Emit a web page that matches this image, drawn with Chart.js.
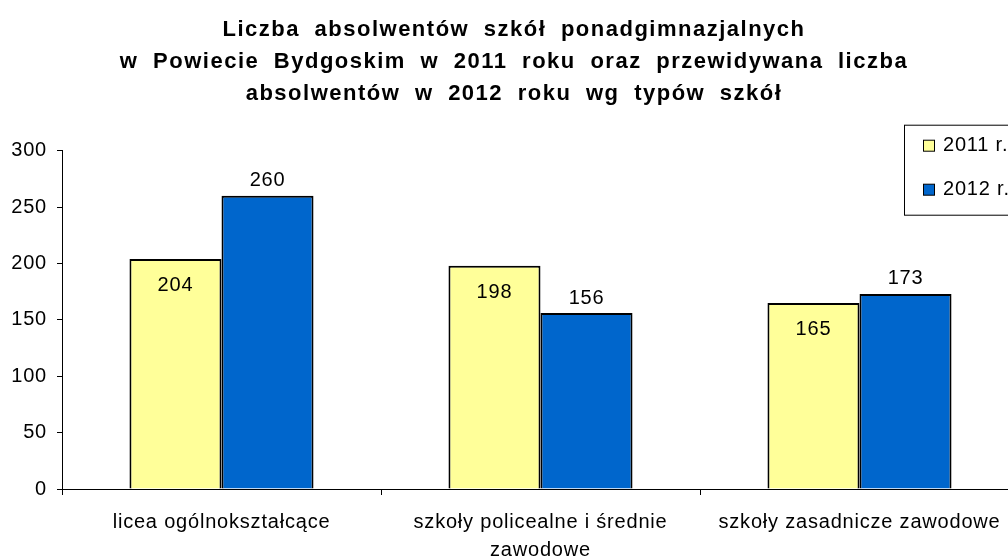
<!DOCTYPE html>
<html>
<head>
<meta charset="utf-8">
<script src="https://cdn.jsdelivr.net/npm/chart.js@4.4.1/dist/chart.umd.min.js"></script>
<style>
  html, body { margin: 0; padding: 0; background: #fff; overflow: hidden; }
  #wrap { width: 1008px; height: 558px; overflow: hidden; }
</style>
</head>
<body>
<div id="wrap"><canvas id="chart" width="1030" height="558"></canvas></div>
<script>
// dane
var categories = ["licea ogólnokształcące", ["szkoły policealne i średnie", "zawodowe"], "szkoły zasadnicze zawodowe"];
var seriesNames = ["2011 r.", "2012 r."];
var values2011 = [204, 198, 165];
var values2012 = [260, 156, 173];
var yTicks = [0, 50, 100, 150, 200, 250, 300];

var FONT = "'Liberation Sans', Arial, sans-serif";
var colors = ["#FFFF99", "#0066CC"];

// rozstrzelony tekst jak w Excelu
var spacing = {
	id: "spacing",
	beforeDraw: function (chart) {
		chart.ctx.letterSpacing = "0.8px";
		var tb = chart.titleBlock;
		if (tb && !tb._spaced) {
			var orig = tb.draw;
			tb.draw = function () {
				chart.ctx.save();
				chart.ctx.letterSpacing = "1.5px";
				chart.ctx.wordSpacing = "7px";
				orig.apply(tb, arguments);
				chart.ctx.restore();
			};
			tb._spaced = true;
		}
	}
};

// etykiety wartości nad/wewnątrz słupków
var barLabels = {
	id: "barLabels",
	afterDatasetsDraw: function (chart) {
		var ctx = chart.ctx;
		chart.data.datasets.forEach(function (ds, i) {
			var meta = chart.getDatasetMeta(i);
			meta.data.forEach(function (bar, j) {
				ctx.save();
				ctx.font = "20px " + FONT;
				ctx.fillStyle = "#000";
				ctx.textAlign = "center";
				ctx.textBaseline = "middle";
				var y = i === 0 ? bar.y + 27 : bar.y - 15;
				ctx.fillText(String(ds.data[j]), bar.x, y);
				ctx.restore();
			});
		});
	}
};

// legenda w ramce
var boxLegend = {
	id: "boxLegend",
	afterDraw: function (chart) {
		var ctx = chart.ctx;
		var area = chart.chartArea;
		var x = area.right - 115, y = area.top - 26;
		ctx.save();
		ctx.fillStyle = "#fff";
		ctx.fillRect(x, y, 140, 90);
		ctx.strokeStyle = "#000";
		ctx.lineWidth = 1;
		ctx.strokeRect(x + 0.5, y + 0.5, 140, 90);
		ctx.font = "20px " + FONT;
		ctx.textBaseline = "middle";
		chart.data.datasets.forEach(function (ds, i) {
			var cy = y + 21 + i * 44;
			ctx.fillStyle = ds.backgroundColor;
			ctx.fillRect(x + 19.5, cy - 5.5, 11, 11);
			ctx.strokeStyle = "#000";
			ctx.strokeRect(x + 19.5, cy - 5.5, 11, 11);
			ctx.fillStyle = "#000";
			ctx.fillText(ds.label, x + 39, cy);
		});
		ctx.restore();
	}
};

var ctx1 = document.getElementById("chart");

var data1 = {
	labels: categories,
	datasets: [
		{
			label: seriesNames[0],
			data: values2011,
			backgroundColor: colors[0],
			borderColor: "#000",
			borderWidth: 2,
			categoryPercentage: 0.577,
			barPercentage: 1
		},
		{
			label: seriesNames[1],
			data: values2012,
			backgroundColor: colors[1],
			borderColor: "#000",
			borderWidth: 2,
			categoryPercentage: 0.577,
			barPercentage: 1
		}
	]
};

var options1 = {
	responsive: false,
	animation: false,
	devicePixelRatio: 1,
	layout: { padding: { left: 9, right: 11, top: 0, bottom: 0 } },
	plugins: {
		legend: { display: false },
		tooltip: { enabled: false },
		title: {
			display: true,
			text: [
				"Liczba absolwentów szkół ponadgimnazjalnych",
				"w Powiecie Bydgoskim w 2011 roku oraz przewidywana liczba",
				"absolwentów w 2012 roku wg typów szkół"
			],
			color: "#000",
			font: { family: FONT, size: 22, weight: "bold", lineHeight: 1.45 },
			padding: { top: 14, bottom: 41 }
		}
	},
	scales: {
		x: {
			offset: true,
			grid: { offset: true, drawOnChartArea: false, drawTicks: true, tickLength: 6, color: "#000" },
			border: { color: "#000", width: 1 },
			ticks: {
				color: "#000",
				font: { family: FONT, size: 20, lineHeight: 1.4 },
				maxRotation: 0,
				minRotation: 0,
				autoSkip: false,
				padding: 13
			},
			afterFit: function (scale) { scale.height = 69; }
		},
		y: {
			min: 0,
			max: 300,
			afterBuildTicks: function (scale) {
				scale.ticks = yTicks.map(function (v) { return { value: v }; });
			},
			grid: { drawOnChartArea: false, drawTicks: true, tickLength: 5, color: "#000" },
			border: { color: "#000", width: 1 },
			ticks: {
				color: "#000",
				font: { family: FONT, size: 20 },
				padding: 10
			},
			afterFit: function (scale) { scale.width = 53; }
		}
	}
};

var chart1 = new Chart(ctx1, {
	type: "bar",
	data: data1,
	options: options1,
	plugins: [spacing, barLabels, boxLegend]
});
</script>
</body>
</html>
